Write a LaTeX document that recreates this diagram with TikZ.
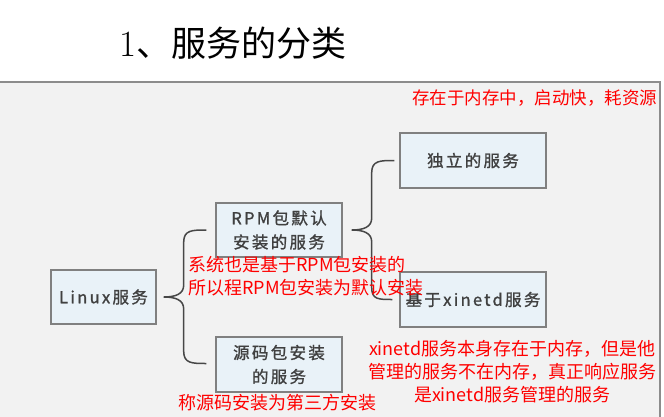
\documentclass[tikz,border=0pt]{standalone}
\usepackage{fontspec}
\usepackage{tikz}
\usetikzlibrary{calc,positioning}
\newfontfamily\cjk{Noto Sans CJK SC}
\newfontfamily\cjkbox[LetterSpace=14,FakeBold=1.2]{Noto Sans CJK SC}
\definecolor{PanelGray}{RGB}{242,242,242}
\definecolor{PanelLine}{RGB}{140,140,140}
\definecolor{BoxBlue}{RGB}{233,242,248}
\definecolor{BoxLine}{RGB}{128,128,128}
\definecolor{BoxText}{RGB}{64,64,64}
\definecolor{NoteRed}{RGB}{255,0,0}
% curly brace: tip, upper end, lower end
\newcommand{\svcbrace}[3]{%
  \draw[brace] (#2) .. controls +(-14,0) and +(0,-12) .. ($(#2 -| #1)+(20,12)$)
    -- ($(#1)+(20,-12)$) .. controls +(0,9) and +(12,0) .. (#1)
    .. controls +(12,0) and +(0,-9) .. ($(#1)+(20,12)$)
    -- ($(#3 -| #1)+(20,-12)$) .. controls +(0,12) and +(-14,0) .. (#3);}

\begin{document}
\begin{tikzpicture}[x=1pt, y=-1pt,
	svc/.style={draw=BoxLine, line width=1.4pt, fill=BoxBlue, text=BoxText, inner sep=0pt, align=center, font=\cjkbox\fontsize{16.5}{24}\selectfont},
	note/.style={text=NoteRed, inner sep=0pt, anchor=west, align=left, font=\cjk\fontsize{18}{23}\selectfont},
	brace/.style={draw=black!72, line width=1.5pt}]
	\useasboundingbox (0,0) rectangle (664,416);
	\node[font=\fontsize{37}{40}\selectfont] (title) at (233,43) {1{\cjk\fontsize{35}{40}\selectfont 、服务的分类}};
	\draw[fill=PanelGray, draw=PanelLine, line width=2pt] (-2,82) rectangle (660,420);
	% boxes
	\node[svc, minimum width=105pt, minimum height=54pt] (linux) at (103.5,297) {Linux服务};
	\node[svc, minimum width=126pt, minimum height=54pt] (rpm) at (279,230) {RPM包默认\\安装的服务};
	\node[svc, minimum width=126pt, minimum height=55pt] (src) at (279,364.5) {源码包安装\\的服务};
	\node[svc, minimum width=146pt, minimum height=55pt] (indep) at (473,160.5) {独立的服务};
	\node[svc, minimum width=146pt, minimum height=55pt] (xinetd) at (473,299.5) {基于xinetd服务};
	% braces
	\coordinate (tipA) at ($(linux.east)+(7,0)$);
	\coordinate (topA) at ($(rpm.west)+(-9,0)$);
	\coordinate (botA) at ($(src.west)+(-9,-1)$);
	\svcbrace{tipA}{topA}{botA}
	\coordinate (tipB) at ($(rpm.east)+(9,0)$);
	\coordinate (topB) at ($(indep.west)+(-5,0)$);
	\coordinate (botB) at ($(xinetd.west)+(-7,0)$);
	\svcbrace{tipB}{topB}{botB}
	% notes
	\node[note, font=\cjk\fontsize{17.5}{23}\selectfont] (memnote) at (412,98) {存在于内存中，启动快，耗资源};
	\node[note] (rpmnote) at (188,276.5) {系统也是基于RPM包安装的\\所以程RPM包安装为默认安装};
	\node[note] (srcnote) at (178,403) {称源码安装为第三方安装};
	\node[note, align=center] (xinetdnote) at (368,372) {xinetd服务本身存在于内存，但是他\\管理的服务不在内存，真正响应服务\\是xinetd服务管理的服务};
\end{tikzpicture}
\end{document}
